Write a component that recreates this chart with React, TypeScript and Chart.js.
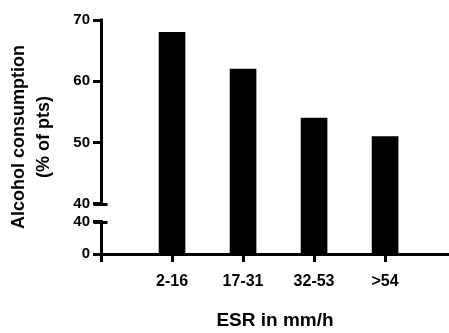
import React, { useEffect, useRef } from "react";
import { Chart, registerables } from "chart.js";

Chart.register(...registerables);

// ---- data ----
const CATEGORIES = ["2-16", "17-31", "32-53", ">54"];
const VALUES = [68, 62, 54, 51];
const LOWER_TICKS = [0, 40];
const UPPER_TICKS = [40, 50, 60, 70];
const X_TITLE = "ESR in mm/h";
const Y_TITLE = ["Alcohol consumption", "(% of pts)"];

// ---- broken axis geometry (expressed in upper-segment units) ----
const BREAK_VALUE = 40;
const AXIS_MAX_VALUE = 70;
const LOWER_SPAN = 5.3;
const GAP = 2.86;

const toAxis = (v: number, upper: boolean = v > BREAK_VALUE) =>
  upper ? LOWER_SPAN + GAP + (v - BREAK_VALUE) : (v / BREAK_VALUE) * LOWER_SPAN;

const Y_TICKS = [
  ...LOWER_TICKS.map((v) => ({ value: toAxis(v, false), label: String(v) })),
  ...UPPER_TICKS.map((v) => ({ value: toAxis(v, true), label: String(v) })),
];

const FONT_FAMILY = "Arial, 'Liberation Sans', Helvetica, sans-serif";

const brokenAxisPlugin = {
  id: "brokenAxis",
  afterDraw(chart: any) {
    const { ctx } = chart;
    const ys = chart.scales.y;
    const xs = chart.scales.x;
    const px = Math.round(xs.getPixelForValue(0)) + 0.5;
    ctx.save();
    ctx.strokeStyle = "#000";
    ctx.lineWidth = 3;
    ctx.lineCap = "butt";
    const segs: [number, number][] = [
      [toAxis(0, false), toAxis(BREAK_VALUE, false)],
      [toAxis(BREAK_VALUE, true), toAxis(AXIS_MAX_VALUE, true)],
    ];
    for (const [a, b] of segs) {
      ctx.beginPath();
      ctx.moveTo(px, ys.getPixelForValue(a) + 1);
      ctx.lineTo(px, ys.getPixelForValue(b) - 1.5);
      ctx.stroke();
    }
    for (const t of [toAxis(BREAK_VALUE, false), toAxis(BREAK_VALUE, true)]) {
      const py = Math.round(ys.getPixelForValue(t)) + 0.5;
      ctx.beginPath();
      ctx.moveTo(px - 8, py);
      ctx.lineTo(px + 6, py);
      ctx.stroke();
    }
    ctx.restore();
  },
};

export default function App() {
  const ref = useRef<HTMLCanvasElement | null>(null);

  useEffect(() => {
    if (!ref.current) return;
    const chart = new Chart(ref.current, {
      type: "bar",
      data: {
        datasets: [
          {
            data: VALUES.map((v, i) => ({ x: i + 1, y: toAxis(v) })),
            backgroundColor: "#000",
            borderWidth: 0,
            barThickness: 26,
          },
        ],
      },
      options: {
        animation: false,
        responsive: false,
        layout: { padding: { top: 20, right: 0, left: 0, bottom: 0 } },
        plugins: { legend: { display: false }, tooltip: { enabled: false } },
        scales: {
          x: {
            type: "linear",
            offset: false,
            min: 0,
            max: 4.9,
            afterFit: (s: any) => {
              s.height = 79;
            },
            afterBuildTicks: (s: any) => {
              s.ticks = [0, 1, 2, 3, 4].map((value) => ({ value }));
            },
            ticks: {
              autoSkip: false,
              maxRotation: 0,
              color: "#000",
              padding: 10,
              font: { family: FONT_FAMILY, size: 16, weight: "bold" },
              callback: (v: any) => (v >= 1 ? CATEGORIES[v - 1] : ""),
            },
            grid: {
              display: true,
              offset: false,
              drawOnChartArea: false,
              drawTicks: true,
              tickLength: 8,
              tickWidth: 3,
              tickColor: "#000",
            },
            border: { display: true, color: "#000", width: 3 },
            title: {
              display: true,
              text: X_TITLE,
              color: "#000",
              font: { family: FONT_FAMILY, size: 19, weight: "bold", lineHeight: 1.2 },
              padding: { top: 0, bottom: 1 },
            },
          },
          y: {
            type: "linear",
            min: 0,
            max: toAxis(AXIS_MAX_VALUE, true),
            afterFit: (s: any) => {
              s.width = 101;
            },
            afterBuildTicks: (s: any) => {
              s.ticks = Y_TICKS.map((t) => ({ value: t.value }));
            },
            ticks: {
              autoSkip: false,
              color: "#000",
              padding: 3,
              font: { family: FONT_FAMILY, size: 15, weight: "bold" },
              callback: (_v: any, i: number) => Y_TICKS[i].label,
            },
            grid: {
              display: true,
              drawOnChartArea: false,
              drawTicks: true,
              tickLength: 8,
              tickWidth: 3,
              tickColor: "#000",
            },
            border: { display: false },
            title: {
              display: true,
              text: Y_TITLE,
              color: "#000",
              font: { family: FONT_FAMILY, size: 18, weight: "bold", lineHeight: 1.36 },
              padding: { top: 7, bottom: 0 },
            },
          },
        },
      },
      plugins: [brokenAxisPlugin],
    } as any);
    return () => chart.destroy();
  }, []);

  return (
    <div style={{ position: "fixed", left: 0, top: 0, width: 449, height: 333, background: "#fff" }}>
      <canvas ref={ref} width={449} height={333} style={{ display: "block" }} />
    </div>
  );
}
